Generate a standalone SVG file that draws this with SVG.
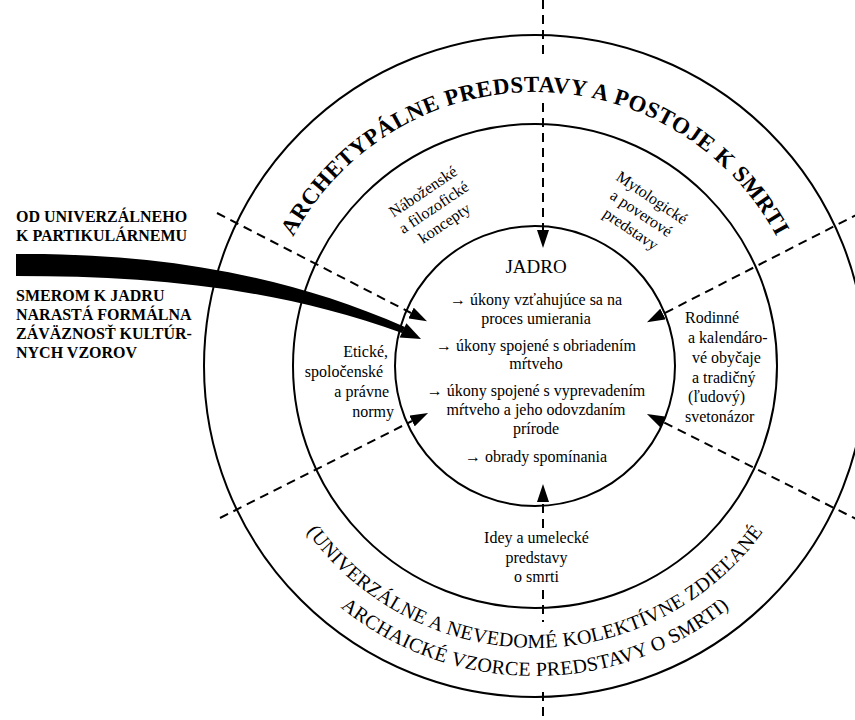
<svg xmlns="http://www.w3.org/2000/svg" width="855" height="720" viewBox="0 0 855 720">
<style>
text{font-family:"Liberation Serif","Times New Roman",serif;fill:#000}
.ring{fill:none;stroke:#000;stroke-width:2}
.dash{fill:none;stroke:#000;stroke-width:2;stroke-dasharray:9 6}
.lbl{font-size:16px}
.mid{text-anchor:middle}
.end{text-anchor:end}
.side{font-size:16px;font-weight:bold}
.arcTop{font-size:23px;font-weight:bold;letter-spacing:0.6px}
.arcBot{font-size:20px;letter-spacing:0.3px}
</style>
<defs>
<marker id="ah" viewBox="0 0 18 12" refX="0" refY="6" markerWidth="18" markerHeight="12" markerUnits="userSpaceOnUse" orient="auto"><path d="M0,0 L18,6 L0,12 Z" fill="#000"/></marker>
<path id="pTop" d="M261,366 A274,274 0 0 1 809,366"/>
<path id="pB1" d="M253,366 A282,282 0 0 0 817,366"/>
<path id="pB2" d="M225,366 A310,310 0 0 0 845,366"/>
</defs>
<rect width="855" height="720" fill="#fff"/>
<g id="rings">
<circle class="ring" cx="535" cy="366" r="331"/>
<circle class="ring" cx="535" cy="366" r="242"/>
<circle class="ring" cx="535" cy="366" r="140"/>
</g>
<g id="connectors">
<line class="dash" x1="543" y1="0" x2="543" y2="58"/>
<line class="dash" x1="543" y1="103" x2="543" y2="230" marker-end="url(#ah)"/>
<line class="dash" x1="543" y1="528" x2="543" y2="502" marker-end="url(#ah)"/>
<line class="dash" x1="543" y1="590" x2="543" y2="622"/>
<line class="dash" x1="543" y1="692" x2="543" y2="720"/>
<line class="dash" x1="217" y1="213" x2="411" y2="313" marker-end="url(#ah)"/>
<line class="dash" x1="220" y1="518" x2="412" y2="421" marker-end="url(#ah)"/>
<line class="dash" x1="860" y1="213" x2="663" y2="314" marker-end="url(#ah)"/>
<line class="dash" x1="860" y1="521" x2="663" y2="422" marker-end="url(#ah)"/>
</g>
<g id="flow-arrow">
<path d="M16,254 C150,253 280,272 405,327 L402,333 C275,287 150,276 16,276 Z" fill="#000"/>
<polygon points="421,339 399.6,337.6 406.4,323.2" fill="#000"/>
</g>
<g id="direction-note">
<text class="side" x="16" y="222">OD UNIVERZÁLNEHO</text>
<text class="side" x="16" y="241">K PARTIKULÁRNEMU</text>
<text class="side" x="16" y="301">SMEROM K JADRU</text>
<text class="side" x="16" y="320">NARASTÁ FORMÁLNA</text>
<text class="side" x="16" y="339">ZÁVÄZNOSŤ KULTÚR-</text>
<text class="side" x="16" y="358">NYCH VZOROV</text>
</g>
<g id="outer-ring-label">
<text class="arcTop"><textPath href="#pTop" startOffset="50%" text-anchor="middle">ARCHETYPÁLNE PREDSTAVY A POSTOJE K SMRTI</textPath></text>
<text class="arcBot"><textPath href="#pB1" startOffset="50%" text-anchor="middle">(UNIVERZÁLNE A NEVEDOMÉ KOLEKTÍVNE ZDIEĽANÉ</textPath></text>
<text class="arcBot"><textPath href="#pB2" startOffset="50%" text-anchor="middle">ARCHAICKÉ VZORCE PREDSTAVY O SMRTI)</textPath></text>
</g>
<g id="core">
<text class="mid" x="536" y="273" font-size="19">JADRO</text>
<text class="lbl mid" x="536" y="305">→ úkony vzťahujúce sa na</text>
<text class="lbl mid" x="536" y="324">proces umierania</text>
<text class="lbl mid" x="536" y="351">→ úkony spojené s obriadením</text>
<text class="lbl mid" x="536" y="369">mŕtveho</text>
<text class="lbl mid" x="536" y="396">→ úkony spojené s vyprevadením</text>
<text class="lbl mid" x="536" y="415">mŕtveho a jeho odovzdaním</text>
<text class="lbl mid" x="536" y="434">prírode</text>
<text class="lbl mid" x="536" y="462">→ obrady spomínania</text>
</g>
<g id="sector-religious" transform="translate(426,196) rotate(-34)">
<text class="lbl mid"><tspan x="0" y="0">Náboženské</tspan><tspan x="0" y="19">a filozofické</tspan><tspan x="0" y="38">koncepty</tspan></text>
</g>
<g id="sector-mythological" transform="translate(649,202) rotate(34)">
<text class="lbl mid"><tspan x="0" y="0">Mytologické</tspan><tspan x="0" y="19">a poverové</tspan><tspan x="0" y="38">predstavy</tspan></text>
</g>
<g id="sector-ethical">
<text class="lbl end" x="388" y="357">Etické,</text>
<text class="lbl end" x="383" y="377">spoločenské</text>
<text class="lbl end" x="389" y="397">a právne</text>
<text class="lbl end" x="394" y="417">normy</text>
</g>
<g id="sector-family">
<text class="lbl" x="685" y="323">Rodinné</text>
<text class="lbl" x="688" y="343">a kalendáro-</text>
<text class="lbl" x="692" y="363">vé obyčaje</text>
<text class="lbl" x="692" y="383">a tradičný</text>
<text class="lbl" x="688" y="402">(ľudový)</text>
<text class="lbl" x="685" y="422">svetonázor</text>
</g>
<g id="sector-art">
<text class="lbl mid" x="536.5" y="543">Idey a umelecké</text>
<text class="lbl mid" x="536.5" y="563">predstavy</text>
<text class="lbl mid" x="536.5" y="582">o smrti</text>
</g>
</svg>
